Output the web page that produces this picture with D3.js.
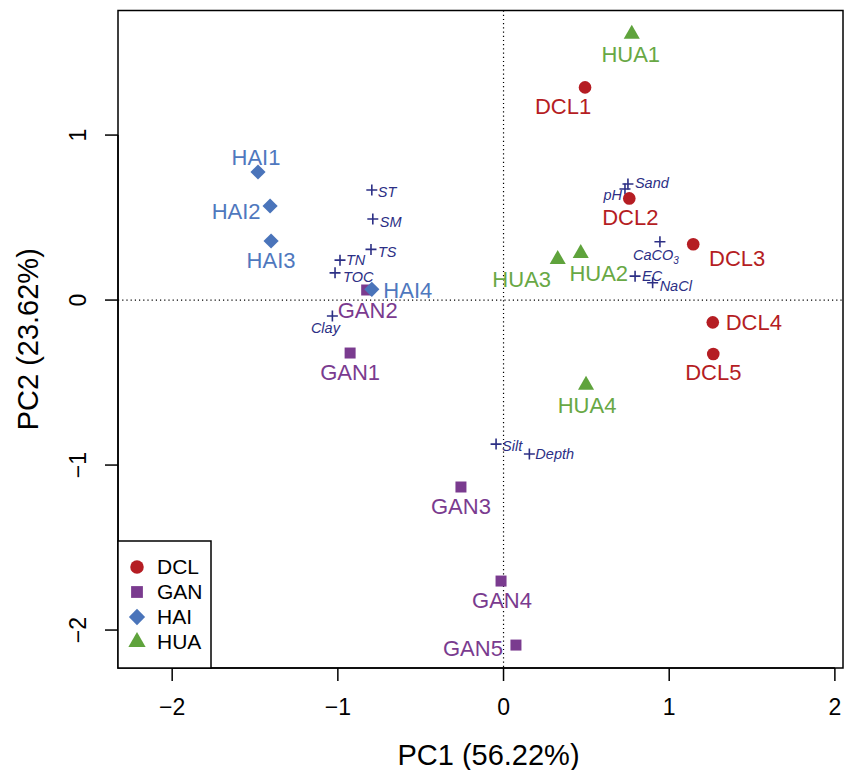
<!DOCTYPE html>
<html>
<head>
<meta charset="utf-8">
<script src="https://cdn.jsdelivr.net/npm/d3@7"></script>
<style>
  body { margin: 0; background: #fff; }
  svg text { font-family: "Liberation Sans", Arial, Helvetica, sans-serif; }
</style>
</head>
<body>
<div id="canvas"></div>
<script>
// sample scores
const sites = ["DCL1", "DCL2", "DCL3", "DCL4", "DCL5",
  "GAN1", "GAN2", "GAN3", "GAN4", "GAN5",
  "HAI1", "HAI2", "HAI3", "HAI4",
  "HUA1", "HUA2", "HUA3", "HUA4"];
const siteGroup = ["DCL", "DCL", "DCL", "DCL", "DCL",
  "GAN", "GAN", "GAN", "GAN", "GAN",
  "HAI", "HAI", "HAI", "HAI",
  "HUA", "HUA", "HUA", "HUA"];
const pc1 = [0.492, 0.759, 1.145, 1.263, 1.266,
  -0.926, -0.826, -0.257, -0.015, 0.075,
  -1.482, -1.409, -1.403, -0.795,
  0.774, 0.466, 0.327, 0.498];
const pc2 = [1.289, 0.616, 0.338, -0.135, -0.327,
  -0.321, 0.061, -1.133, -1.703, -2.091,
  0.776, 0.570, 0.358, 0.065,
  1.612, 0.283, 0.247, -0.515];

// environmental variables
const envVars = ["ST", "SM", "TS", "TN", "TOC", "Clay", "pH", "Sand",
  "CaCO3", "EC", "NaCl", "Silt", "Depth"];
const envPC1 = [-0.795, -0.789, -0.800, -0.987, -1.017, -1.033, 0.733, 0.751,
  0.944, 0.794, 0.900, -0.045, 0.156];
const envPC2 = [0.667, 0.491, 0.307, 0.242, 0.165, -0.097, 0.673, 0.703,
  0.353, 0.145, 0.105, -0.873, -0.933];

const groups = ["DCL", "GAN", "HAI", "HUA"];
const xTicks = [-2, -1, 0, 1, 2];
const yTicks = [-2, -1, 0, 1];
const xTitle = "PC1 (56.22%)";
const yTitle = "PC2 (23.62%)";

// look
const colors = { DCL: "#B51D23", GAN: "#7A3B8F", HAI: "#4A74BA", HUA: "#5FA33C" };
const labelColors = { DCL: "#B51D23", GAN: "#7A3B8F", HAI: "#4F78BE", HUA: "#68A845" };
const envColor = "#2C2F85";

// label offsets in px (text-anchor middle, baseline)
const labelOffset = {
  DCL1: [-22, 27], DCL2: [1, 27], DCL3: [44, 22], DCL4: [41, 8], DCL5: [0, 26],
  GAN1: [0, 27], GAN2: [1, 28], GAN3: [0, 27], GAN4: [1, 27], GAN5: [-43, 11],
  HAI1: [-2, -7], HAI2: [-34, 13], HAI3: [0, 27], HAI4: [36, 9],
  HUA1: [-1, 28], HUA2: [18, 28], HUA3: [-36, 28], HUA4: [1, 28]
};
const envOffset = {
  ST: ["start", 6, 7], SM: ["start", 7, 8], TS: ["start", 7, 8],
  TN: ["start", 6, 5], TOC: ["start", 8, 9], Clay: ["middle", -7, 17],
  pH: ["end", -3, 11], Sand: ["start", 7, 4], CaCO3: ["middle", -4, 18],
  EC: ["start", 7, 5], NaCl: ["start", 7, 8], Silt: ["start", 6, 7],
  Depth: ["start", 6, 5]
};

const width = 844;
const height = 770;
const margin = { top: 10.5, left: 118, bottom: 102, right: 1 };
const iwidth = width - margin.left - margin.right;
const iheight = height - margin.top - margin.bottom;

const svg = d3.select("#canvas").append("svg")
  .attr("width", width)
  .attr("height", height);

const g = svg.append("g")
  .attr("transform", `translate(${margin.left},${margin.top})`);

const x = d3.scaleLinear().domain([-2.327, 2.049]).range([0, iwidth]);
const y = d3.scaleLinear().domain([-2.23, 1.755]).range([iheight, 0]);

function symbolPath(grp, big) {
  const k = big ? 1.15 : 1;
  if (grp === "DCL") return d3.symbol(d3.symbolCircle, 125 * k)();
  if (grp === "GAN") return d3.symbol(d3.symbolSquare, 121 * k)();
  if (grp === "HAI") return d3.symbol(d3.symbolSquare, 115 * k)();
  return d3.symbol(d3.symbolTriangle, 112 * k)();
}
function symbolRot(grp) { return grp === "HAI" ? " rotate(45)" : ""; }

// zero lines
g.append("line")
  .attr("x1", x(0)).attr("x2", x(0)).attr("y1", 0).attr("y2", iheight)
  .attr("stroke", "#000").attr("stroke-width", 1.2).attr("stroke-dasharray", "1.2,3");
g.append("line")
  .attr("x1", 0).attr("x2", iwidth).attr("y1", y(0)).attr("y2", y(0))
  .attr("stroke", "#000").attr("stroke-width", 1.2).attr("stroke-dasharray", "1.2,3");

// env variables: crosses + italic labels
const env = envVars.map((v, i) => ({ name: v, x: envPC1[i], y: envPC2[i] }));
const envG = g.selectAll(".env").data(env).enter().append("g")
  .attr("transform", (d) => `translate(${x(d.x)},${y(d.y)})`);
envG.append("path")
  .attr("d", "M-5.5,0H5.5M0,-5.5V5.5")
  .attr("stroke", envColor).attr("stroke-width", 1.6);
const envText = envG.append("text")
  .attr("x", (d) => envOffset[d.name][1])
  .attr("y", (d) => envOffset[d.name][2])
  .attr("text-anchor", (d) => envOffset[d.name][0])
  .style("font-size", "14.5px")
  .style("font-style", "italic")
  .attr("fill", envColor);
envText.each(function (d) {
  const t = d3.select(this);
  if (d.name === "CaCO3") {
    t.append("tspan").text("CaCO");
    t.append("tspan").attr("dy", 4).style("font-size", "10px").text("3");
  } else {
    t.text(d.name);
  }
});

// sample points
const pts = sites.map((s, i) => ({ name: s, grp: siteGroup[i], x: pc1[i], y: pc2[i] }));
g.selectAll(".pt").data(pts).enter().append("path")
  .attr("class", "pt")
  .attr("d", (d) => symbolPath(d.grp))
  .attr("transform", (d) => `translate(${x(d.x)},${y(d.y)})` + symbolRot(d.grp))
  .attr("fill", (d) => colors[d.grp]);

g.selectAll(".lab").data(pts).enter().append("text")
  .attr("class", "lab")
  .attr("x", (d) => x(d.x) + labelOffset[d.name][0])
  .attr("y", (d) => y(d.y) + labelOffset[d.name][1])
  .attr("text-anchor", "middle")
  .style("font-size", "22px")
  .attr("fill", (d) => labelColors[d.grp])
  .text((d) => d.name);

// box
g.append("rect")
  .attr("width", iwidth).attr("height", iheight)
  .attr("fill", "none").attr("stroke", "#000").attr("stroke-width", 1.5);

// bottom axis
const xAxis = g.append("g").attr("transform", `translate(0,${iheight})`);
xAxis.append("line")
  .attr("x1", x(xTicks[0])).attr("x2", x(xTicks[xTicks.length - 1]))
  .attr("stroke", "#000").attr("stroke-width", 1.5);
xAxis.selectAll(".tick").data(xTicks).enter().append("line")
  .attr("x1", (d) => x(d)).attr("x2", (d) => x(d))
  .attr("y1", 0).attr("y2", 13)
  .attr("stroke", "#000").attr("stroke-width", 1.5);
xAxis.selectAll(".tl").data(xTicks).enter().append("text")
  .attr("x", (d) => x(d)).attr("y", 47)
  .attr("text-anchor", "middle")
  .style("font-size", "23px")
  .text((d) => (d < 0 ? "\u2212" + Math.abs(d) : d));

// left axis
const yAxis = g.append("g");
yAxis.append("line")
  .attr("y1", y(yTicks[0])).attr("y2", y(yTicks[yTicks.length - 1]))
  .attr("stroke", "#000").attr("stroke-width", 1.5);
yAxis.selectAll(".tick").data(yTicks).enter().append("line")
  .attr("y1", (d) => y(d)).attr("y2", (d) => y(d))
  .attr("x1", 0).attr("x2", -13)
  .attr("stroke", "#000").attr("stroke-width", 1.5);
yAxis.selectAll(".tl").data(yTicks).enter().append("text")
  .attr("transform", (d) => `translate(-32,${y(d)}) rotate(-90)`)
  .attr("text-anchor", "middle")
  .style("font-size", "23px")
  .text((d) => (d < 0 ? "\u2212" + Math.abs(d) : d));

// axis titles
svg.append("text")
  .attr("x", margin.left + iwidth / 2 + 8)
  .attr("y", 765)
  .attr("text-anchor", "middle")
  .style("font-size", "29px")
  .text(xTitle);
svg.append("text")
  .attr("transform", `translate(38,${margin.top + iheight / 2}) rotate(-90)`)
  .attr("text-anchor", "middle")
  .style("font-size", "29px")
  .text(yTitle);

// legend
const leg = g.append("g").attr("transform", `translate(0,${iheight - 127})`);
leg.append("rect")
  .attr("width", 93).attr("height", 127)
  .attr("fill", "#fff").attr("stroke", "#000").attr("stroke-width", 1.5);
const items = leg.selectAll(".item").data(groups).enter().append("g")
  .attr("transform", (d, i) => `translate(0,${26 + i * 25})`);
items.append("path")
  .attr("d", (d) => symbolPath(d, true))
  .attr("transform", (d) => "translate(19,0)" + symbolRot(d))
  .attr("fill", (d) => colors[d]);
items.append("text")
  .attr("x", 39).attr("y", 7)
  .style("font-size", "21px")
  .text((d) => d);
</script>
</body>
</html>
